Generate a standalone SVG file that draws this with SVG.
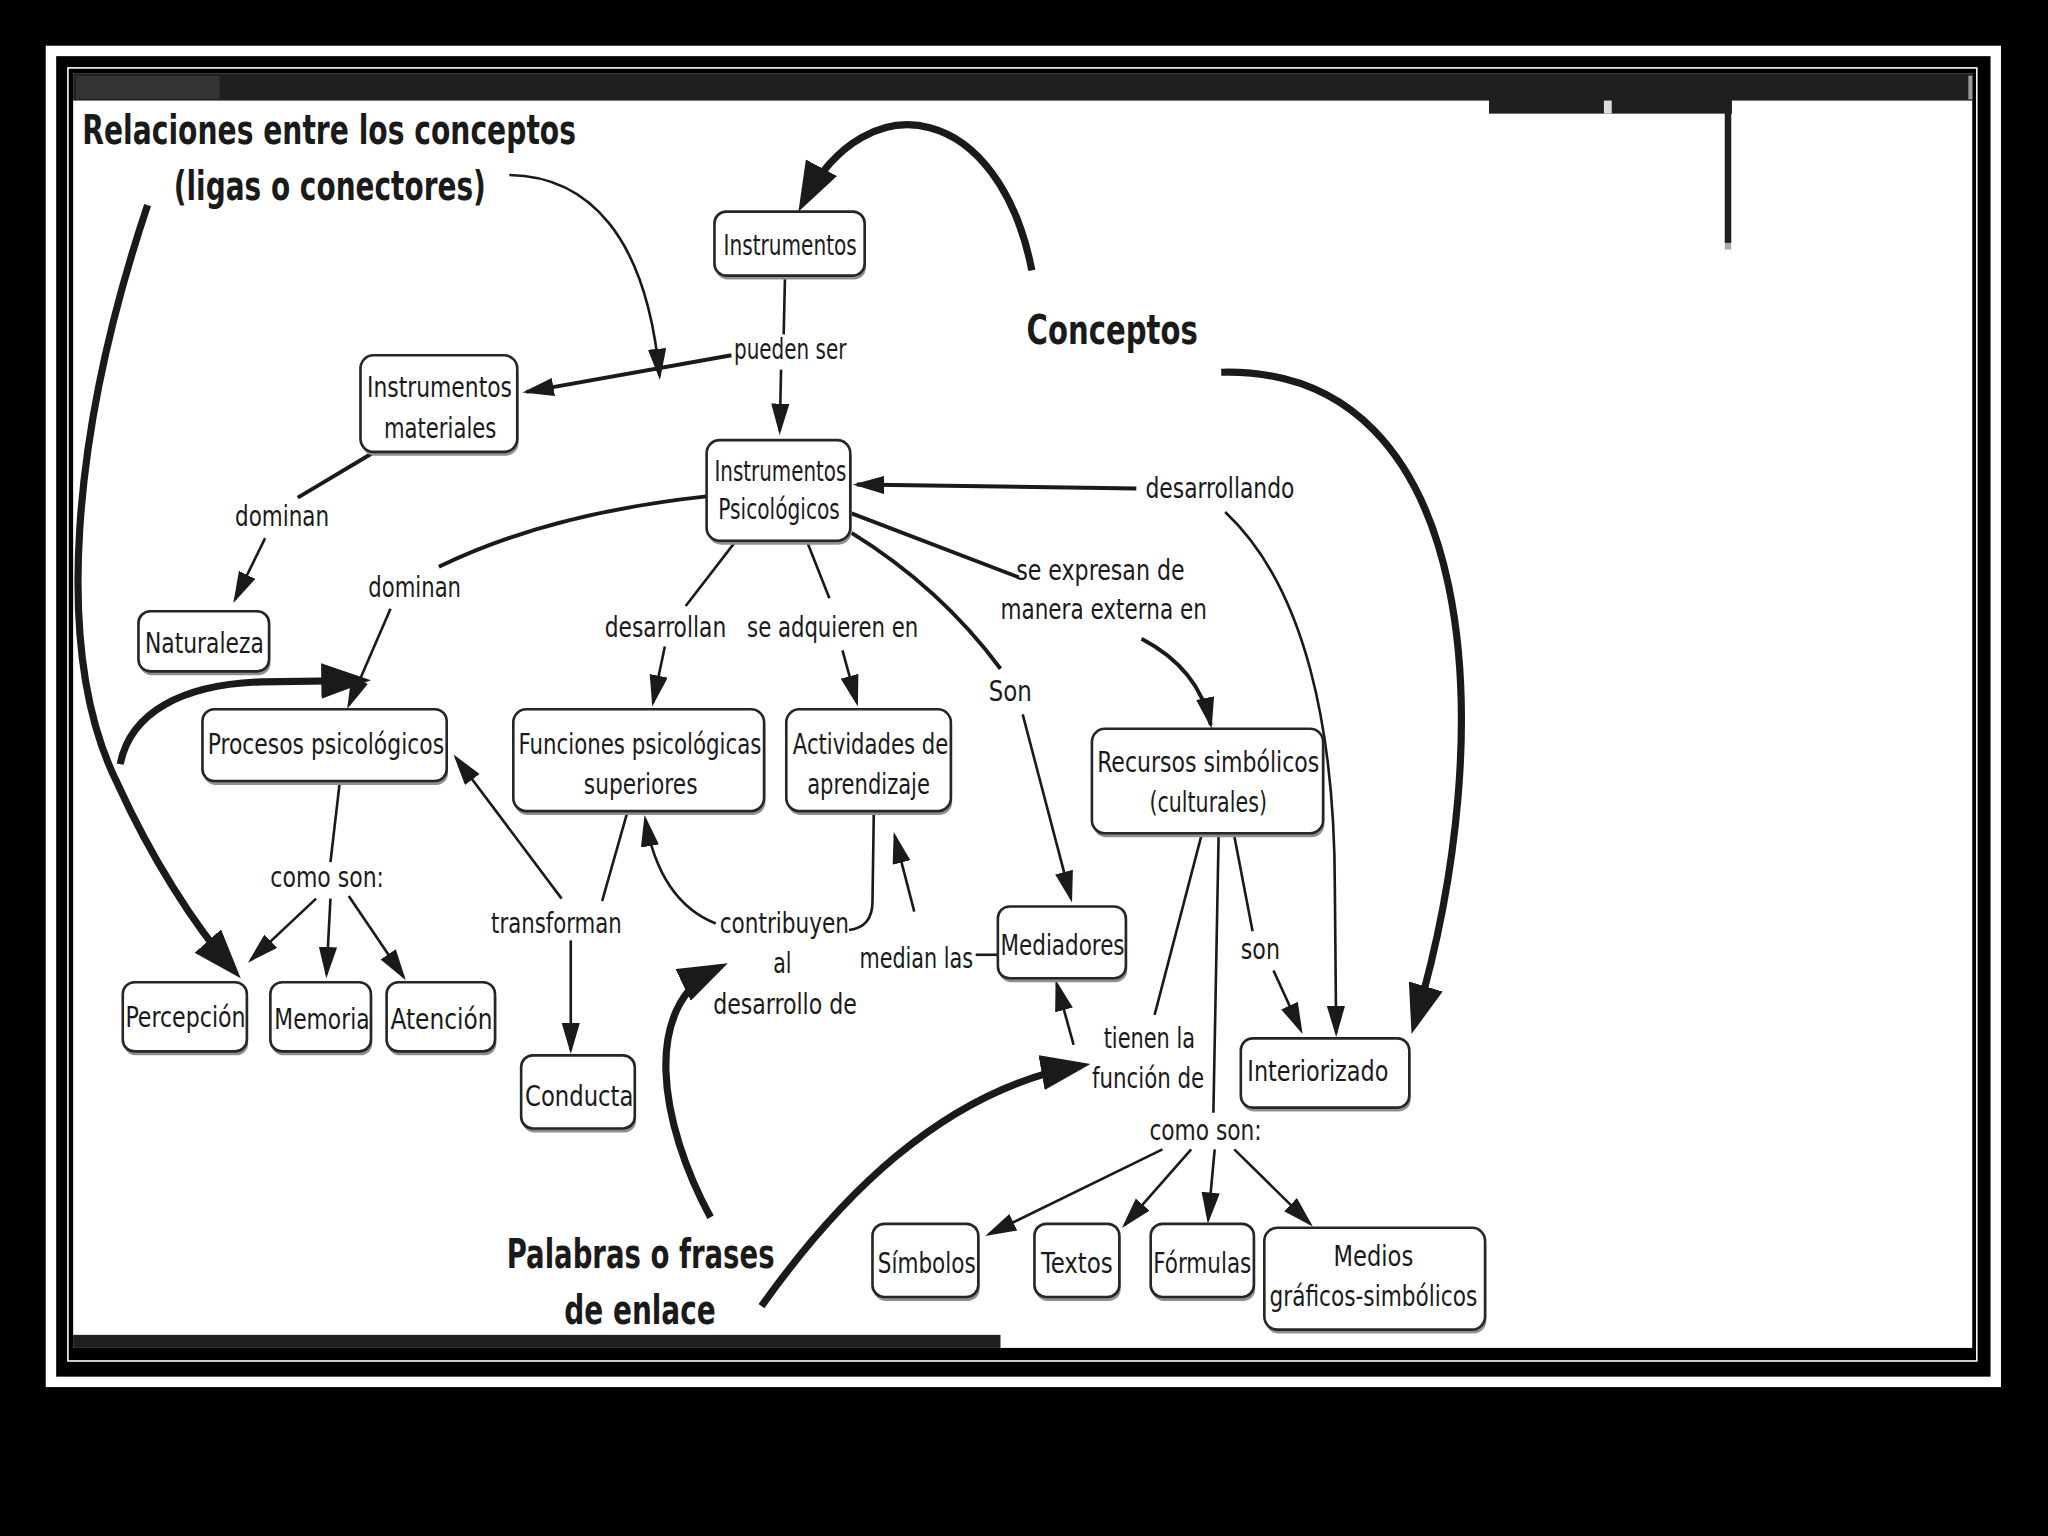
<svg xmlns="http://www.w3.org/2000/svg" width="2048" height="1536" viewBox="0 0 2048 1536">
<defs>
<style>
.t{font-family:"Liberation Sans Narrow","DejaVu Sans Condensed","Liberation Sans",Arial,sans-serif;font-size:22px;fill:#1a1a1a}
.b{font-weight:bold;font-size:31px}
.box{fill:#fff;stroke:#262626;stroke-width:2}
.sh{fill:#8f8f8f}
.c{fill:none;stroke:#1a1a1a;stroke-width:2}
.m{stroke-width:3}
.k{stroke-width:5.5}
</style>
<marker id="a" markerUnits="userSpaceOnUse" markerWidth="26" markerHeight="16" refX="21" refY="7" orient="auto"><path d="M0,0 L24,7 L0,14 z" fill="#1a1a1a"/></marker>
<marker id="A" markerUnits="userSpaceOnUse" markerWidth="40" markerHeight="30" refX="30" refY="13.5" orient="auto"><path d="M0,0 L38,13.5 L0,27 z" fill="#1a1a1a"/></marker>
</defs>
<rect x="0" y="0" width="2048" height="1536" fill="#000"/>
<g transform="scale(1.306122)">
<g id="frame">
<rect x="35" y="35" width="1497" height="1027" fill="#fff"/>
<rect x="43" y="43" width="1481" height="1011" fill="#000"/>
<rect x="52" y="52" width="1461.5" height="990" fill="none" stroke="#fff" stroke-width="1.2"/>
<rect x="56" y="56" width="1454" height="976" fill="#fff"/>
<rect x="56" y="56" width="1454" height="21" fill="#1f1f1f"/>
<rect x="58" y="58" width="110" height="18" fill="#333"/>
<rect x="1140" y="76" width="186" height="11" fill="#1f1f1f"/>
<rect x="1228" y="77" width="6" height="10" fill="#ddd"/>
<rect x="1320.5" y="80" width="5" height="106" fill="#1f1f1f"/>
<rect x="1320.5" y="186" width="5" height="5" fill="#aaa"/>
<rect x="1507" y="58" width="3" height="18" fill="#999"/>
<rect x="56" y="1022" width="710" height="10" fill="#1f1f1f"/>
</g>
<g id="connectors">
<path class="c" d="M601,212 L600,256"/>
<path class="c" d="M598,283 L597,330" marker-end="url(#a)"/>
<path class="c m" d="M560,272 L403,300" marker-end="url(#a)"/>
<path class="c m" d="M285,347 L228,381"/>
<path class="c" d="M203,412 L180,459" marker-end="url(#a)"/>
<path class="c m" d="M541,380 Q420,393 336,434"/>
<path class="c" d="M299,466 L267,540" marker-end="url(#a)"/>
<path class="c k" d="M113,157 C55,330 40,500 90,600 C115,655 148,708 179,743" marker-end="url(#A)"/>
<path class="c k" d="M92,585 C100,545 140,524 200,522 L276,521" marker-end="url(#A)"/>
<path class="c" d="M562,416 L525,464"/>
<path class="c" d="M509,495 L500,538" marker-end="url(#a)"/>
<path class="c" d="M618,415 L635,458"/>
<path class="c" d="M645,498 L656,538" marker-end="url(#a)"/>
<path class="c m" d="M652,408 Q720,450 766,512"/>
<path class="c" d="M783,547 L820,688" marker-end="url(#a)"/>
<path class="c m" d="M652,393 L780,442"/>
<path class="c m" d="M874,489 Q918,512 927,555" marker-end="url(#a)"/>
<path class="c m" d="M870,374 L656,371" marker-end="url(#a)"/>
<path class="c" d="M938,392 C1000,450 1022,560 1022,680 L1023,791" marker-end="url(#a)"/>
<path class="c k" d="M790,207 C765,80 665,60 615,155" marker-end="url(#A)"/>
<path class="c k" d="M935,285 C1135,280 1150,560 1083,784" marker-end="url(#A)"/>
<path class="c" d="M945,640 L959,713"/>
<path class="c" d="M975,743 L996,789" marker-end="url(#a)"/>
<path class="c" d="M920,639 L884,777"/>
<path class="c" d="M933,640 L929,852"/>
<path class="c" d="M822,800 L809,753" marker-end="url(#a)"/>
<path class="c k" d="M583,1000 C640,920 720,835 827,816" marker-end="url(#A)"/>
<path class="c k" d="M544,932 C505,860 490,770 550,741" marker-end="url(#A)"/>
<path class="c" d="M747,731 L764,731"/>
<path class="c" d="M700,698 L685,640" marker-end="url(#a)"/>
<path class="c" d="M650,712 Q668,710 668,690 L669,622"/>
<path class="c" d="M548,707 Q505,690 494,627" marker-end="url(#a)"/>
<path class="c" d="M480,623 L461,690"/>
<path class="c" d="M430,688 L349,580" marker-end="url(#a)"/>
<path class="c" d="M437,720 L437,804" marker-end="url(#a)"/>
<path class="c" d="M260,600 L253,660"/>
<path class="c" d="M242,688 L192,735" marker-end="url(#a)"/>
<path class="c" d="M253,688 L250,746" marker-end="url(#a)"/>
<path class="c" d="M267,686 L309,748" marker-end="url(#a)"/>
<path class="c" d="M890,880 L757,945" marker-end="url(#a)"/>
<path class="c" d="M912,880 L861,938" marker-end="url(#a)"/>
<path class="c" d="M930,880 L925,934" marker-end="url(#a)"/>
<path class="c" d="M945,880 L1003,937" marker-end="url(#a)"/>
<path class="c" d="M390,134 C450,135 495,180 505,288" marker-end="url(#a)"/>
</g>
<g id="labels">
<text class="t b" x="63" y="110" textLength="378" lengthAdjust="spacingAndGlyphs">Relaciones entre los conceptos</text>
<text class="t b" x="133" y="153" textLength="239" lengthAdjust="spacingAndGlyphs">(ligas o conectores)</text>
<text class="t b" x="786" y="263" textLength="131" lengthAdjust="spacingAndGlyphs">Conceptos</text>
<text class="t b" x="388" y="971" textLength="205" lengthAdjust="spacingAndGlyphs">Palabras o frases</text>
<text class="t b" x="432" y="1014" textLength="116" lengthAdjust="spacingAndGlyphs">de enlace</text>
<text class="t" x="562" y="275" textLength="86" lengthAdjust="spacingAndGlyphs">pueden ser</text>
<text class="t" x="180" y="403" textLength="72" lengthAdjust="spacingAndGlyphs">dominan</text>
<text class="t" x="282" y="457" textLength="71" lengthAdjust="spacingAndGlyphs">dominan</text>
<text class="t" x="877" y="381" textLength="114" lengthAdjust="spacingAndGlyphs">desarrollando</text>
<text class="t" x="778" y="444" textLength="129" lengthAdjust="spacingAndGlyphs">se expresan de</text>
<text class="t" x="766" y="474" textLength="158" lengthAdjust="spacingAndGlyphs">manera externa en</text>
<text class="t" x="463" y="488" textLength="93" lengthAdjust="spacingAndGlyphs">desarrollan</text>
<text class="t" x="572" y="488" textLength="131" lengthAdjust="spacingAndGlyphs">se adquieren en</text>
<text class="t" x="757" y="537" textLength="33" lengthAdjust="spacingAndGlyphs">Son</text>
<text class="t" x="207" y="679" textLength="87" lengthAdjust="spacingAndGlyphs">como son:</text>
<text class="t" x="376" y="714" textLength="100" lengthAdjust="spacingAndGlyphs">transforman</text>
<text class="t" x="551" y="714" textLength="99" lengthAdjust="spacingAndGlyphs">contribuyen</text>
<text class="t" x="592" y="745" textLength="14" lengthAdjust="spacingAndGlyphs">al</text>
<text class="t" x="546" y="776" textLength="110" lengthAdjust="spacingAndGlyphs">desarrollo de</text>
<text class="t" x="658" y="741" textLength="87" lengthAdjust="spacingAndGlyphs">median las</text>
<text class="t" x="950" y="734" textLength="30" lengthAdjust="spacingAndGlyphs">son</text>
<text class="t" x="845" y="802" textLength="70" lengthAdjust="spacingAndGlyphs">tienen la</text>
<text class="t" x="836" y="833" textLength="86" lengthAdjust="spacingAndGlyphs">función de</text>
<text class="t" x="880" y="873" textLength="86" lengthAdjust="spacingAndGlyphs">como son:</text>
</g>
<g id="n-instrumentos"><rect class="sh" x="548" y="165" width="115" height="49" rx="9"/><rect class="box" x="547" y="162" width="115" height="49" rx="9"/><text class="t" x="554" y="195" textLength="102" lengthAdjust="spacingAndGlyphs">Instrumentos</text></g>
<g id="n-materiales"><rect class="sh" x="277" y="275" width="120" height="74" rx="10"/><rect class="box" x="276" y="272" width="120" height="74" rx="10"/><text class="t" x="281" y="304" textLength="111" lengthAdjust="spacingAndGlyphs">Instrumentos</text><text class="t" x="294" y="335" textLength="86" lengthAdjust="spacingAndGlyphs">materiales</text></g>
<g id="n-psicologicos"><rect class="sh" x="542" y="340" width="110" height="77" rx="10"/><rect class="box" x="541" y="337" width="110" height="77" rx="10"/><text class="t" x="547" y="368" textLength="101" lengthAdjust="spacingAndGlyphs">Instrumentos</text><text class="t" x="550" y="397" textLength="93" lengthAdjust="spacingAndGlyphs">Psicológicos</text></g>
<g id="n-naturaleza"><rect class="sh" x="107" y="471" width="100" height="46" rx="9"/><rect class="box" x="106" y="468" width="100" height="46" rx="9"/><text class="t" x="111" y="500" textLength="91" lengthAdjust="spacingAndGlyphs">Naturaleza</text></g>
<g id="n-procesos"><rect class="sh" x="156" y="546" width="187" height="55" rx="9"/><rect class="box" x="155" y="543" width="187" height="55" rx="9"/><text class="t" x="159" y="577" textLength="181" lengthAdjust="spacingAndGlyphs">Procesos psicológicos</text></g>
<g id="n-funciones"><rect class="sh" x="394" y="546" width="192" height="78" rx="10"/><rect class="box" x="393" y="543" width="192" height="78" rx="10"/><text class="t" x="397" y="577" textLength="186" lengthAdjust="spacingAndGlyphs">Funciones psicológicas</text><text class="t" x="447" y="608" textLength="87" lengthAdjust="spacingAndGlyphs">superiores</text></g>
<g id="n-actividades"><rect class="sh" x="603" y="546" width="126" height="78" rx="10"/><rect class="box" x="602" y="543" width="126" height="78" rx="10"/><text class="t" x="607" y="577" textLength="119" lengthAdjust="spacingAndGlyphs">Actividades de</text><text class="t" x="618" y="608" textLength="94" lengthAdjust="spacingAndGlyphs">aprendizaje</text></g>
<g id="n-recursos"><rect class="sh" x="837" y="561" width="177" height="80" rx="10"/><rect class="box" x="836" y="558" width="177" height="80" rx="10"/><text class="t" x="840" y="591" textLength="170" lengthAdjust="spacingAndGlyphs">Recursos simbólicos</text><text class="t" x="880" y="622" textLength="90" lengthAdjust="spacingAndGlyphs">(culturales)</text></g>
<g id="n-mediadores"><rect class="sh" x="765" y="697" width="98" height="55" rx="9"/><rect class="box" x="764" y="694" width="98" height="55" rx="9"/><text class="t" x="766" y="731" textLength="95" lengthAdjust="spacingAndGlyphs">Mediadores</text></g>
<g id="n-percepcion"><rect class="sh" x="95" y="755" width="95" height="53" rx="9"/><rect class="box" x="94" y="752" width="95" height="53" rx="9"/><text class="t" x="96" y="786" textLength="92" lengthAdjust="spacingAndGlyphs">Percepción</text></g>
<g id="n-memoria"><rect class="sh" x="208" y="755" width="77" height="53" rx="9"/><rect class="box" x="207" y="752" width="77" height="53" rx="9"/><text class="t" x="210" y="788" textLength="73" lengthAdjust="spacingAndGlyphs">Memoria</text></g>
<g id="n-atencion"><rect class="sh" x="297" y="755" width="83" height="53" rx="9"/><rect class="box" x="296" y="752" width="83" height="53" rx="9"/><text class="t" x="299" y="788" textLength="78" lengthAdjust="spacingAndGlyphs">Atención</text></g>
<g id="n-conducta"><rect class="sh" x="400" y="811" width="87" height="56" rx="9"/><rect class="box" x="399" y="808" width="87" height="56" rx="9"/><text class="t" x="402" y="847" textLength="83" lengthAdjust="spacingAndGlyphs">Conducta</text></g>
<g id="n-interiorizado"><rect class="sh" x="951" y="798" width="129" height="53" rx="9"/><rect class="box" x="950" y="795" width="129" height="53" rx="9"/><text class="t" x="955" y="828" textLength="108" lengthAdjust="spacingAndGlyphs">Interiorizado</text></g>
<g id="n-simbolos"><rect class="sh" x="669" y="940" width="81" height="56" rx="9"/><rect class="box" x="668" y="937" width="81" height="56" rx="9"/><text class="t" x="672" y="975" textLength="75" lengthAdjust="spacingAndGlyphs">Símbolos</text></g>
<g id="n-textos"><rect class="sh" x="793" y="940" width="65" height="56" rx="9"/><rect class="box" x="792" y="937" width="65" height="56" rx="9"/><text class="t" x="797" y="975" textLength="55" lengthAdjust="spacingAndGlyphs">Textos</text></g>
<g id="n-formulas"><rect class="sh" x="882" y="940" width="79" height="56" rx="9"/><rect class="box" x="881" y="937" width="79" height="56" rx="9"/><text class="t" x="883" y="975" textLength="75" lengthAdjust="spacingAndGlyphs">Fórmulas</text></g>
<g id="n-medios"><rect class="sh" x="969" y="943" width="169" height="78" rx="10"/><rect class="box" x="968" y="940" width="169" height="78" rx="10"/><text class="t" x="1021" y="969" textLength="61" lengthAdjust="spacingAndGlyphs">Medios</text><text class="t" x="972" y="1000" textLength="159" lengthAdjust="spacingAndGlyphs">gráficos-simbólicos</text></g>
</g>
</svg>
